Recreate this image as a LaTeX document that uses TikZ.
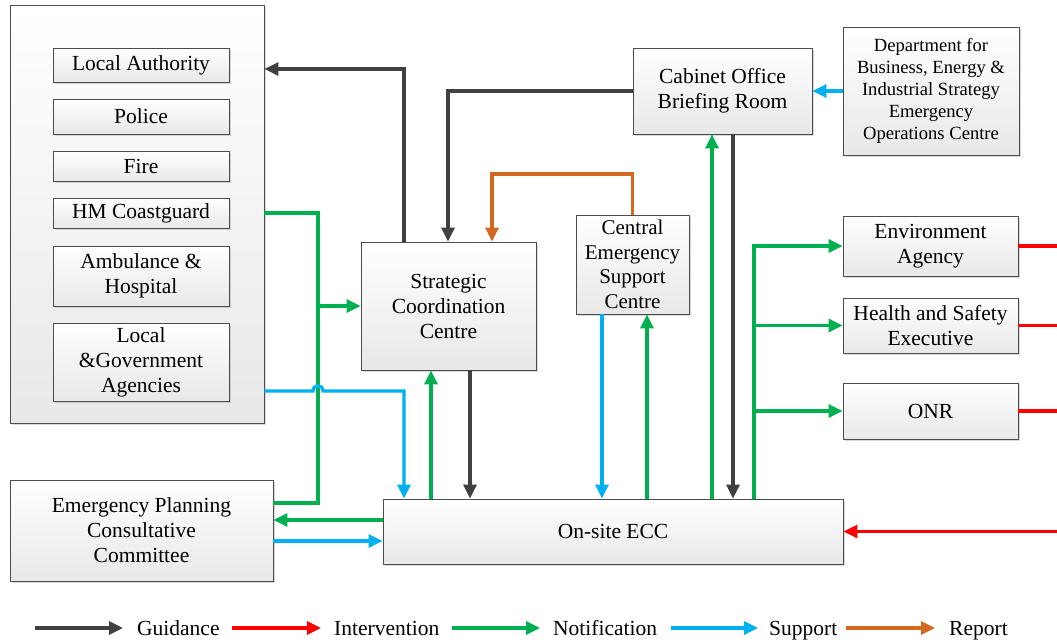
\documentclass[tikz,border=0pt]{standalone}
\usepackage{fontspec}
\setmainfont{Liberation Serif}
\newfontfamily\tnr{Liberation Serif}
\usetikzlibrary{arrows.meta,shadows}
\definecolor{cgd}{HTML}{404040}
\definecolor{cit}{HTML}{FF0000}
\definecolor{cnt}{HTML}{00B050}
\definecolor{csp}{HTML}{00B0F0}
\definecolor{crp}{HTML}{D2691E}
\begin{document}
\begin{tikzpicture}[x=1pt,y=-1pt,
  box/.style={draw=black!70, line width=0.9pt, top color=white, bottom color=black!9,
    drop shadow={shadow xshift=2pt,shadow yshift=-2pt,fill=black!30,opacity=0.5},
    inner sep=0pt, align=center, font=\tnr\fontsize{21.5}{25}\selectfont},
  conn/.style={line width=3.2pt},
  tip/.style={-{Triangle[length=14pt,width=13pt]}},
  gd/.style={conn, draw=cgd},
  it/.style={conn, draw=cit},
  nt/.style={conn, draw=cnt},
  sp/.style={conn, draw=csp},
  rp/.style={conn, draw=crp},
  lab/.style={inner sep=0pt, anchor=base west, font=\tnr\fontsize{21.5}{25}\selectfont}
]
\useasboundingbox (0,0) rectangle (1057,643);
\coordinate (R) at (1057,0);

% left container and its boxes
\node[box, minimum width=254pt, minimum height=418pt] (cont) at (137,214) {};
\node[box, minimum width=176pt, minimum height=34pt] (la) at (141,65) {Local Authority};
\node[box, minimum width=176pt, minimum height=35pt] (police) at (141,116.5) {Police};
\node[box, minimum width=176pt, minimum height=30pt] (fire) at (141,166) {Fire};
\node[box, minimum width=176pt, minimum height=30pt] (hm) at (141,213) {HM Coastguard};
\node[box, minimum width=176pt, minimum height=60pt] (amb) at (141,276) {Ambulance \&\\Hospital};
\node[box, minimum width=176pt, minimum height=78pt] (lga) at (141,362) {Local\\\&Government\\Agencies};

% other boxes
\node[box, minimum width=175pt, minimum height=128pt] (scc) at (448.5,306) {Strategic\\Coordination\\Centre};
\node[box, minimum width=179pt, minimum height=86pt] (cobr) at (722.5,91) {Cabinet Office\\Briefing Room};
\node[box, minimum width=176pt, minimum height=128pt, font=\tnr\fontsize{18.6}{22}\selectfont] (dept) at (931,91) {Department for\\Business, Energy \&\\Industrial Strategy\\Emergency\\Operations Centre};
\node[box, minimum width=113pt, minimum height=99pt, font=\tnr\fontsize{21}{24.5}\selectfont] (cesc) at (632.5,264.5) {Central\\Emergency\\Support\\Centre};
\node[box, minimum width=175pt, minimum height=60pt] (ea) at (930.5,246) {Environment\\Agency};
\node[box, minimum width=175pt, minimum height=55pt] (hse) at (930.5,325.5) {Health and Safety\\Executive};
\node[box, minimum width=175pt, minimum height=56pt] (onr) at (930.5,411) {ONR};
\node[box, minimum width=460pt, minimum height=65pt] (ecc) at (613,531.5) {On-site ECC};
\node[box, minimum width=263pt, minimum height=101pt] (epcc) at (141.5,530.5) {Emergency Planning\\Consultative\\Committee};

% guidance
\draw[gd, tip] (scc.north -| 404,0) -- (404,69) -- (cont.east |- 0,69);
\draw[gd, tip] (cobr.west) -| (scc.north -| 448,0);
\draw[gd, tip] (scc.south -| 470,0) -- (ecc.north -| 470,0);
\draw[gd, tip] (cobr.south -| 733,0) -- (ecc.north -| 733,0);

% report
\draw[rp, tip] (cesc.north) -- (cesc.north |- 0,174) -| (scc.north -| 492,0);

% notification
\draw[nt] (cont.east |- 0,213) -- (318,213) -- (318,503) -- (epcc.east |- 0,503);
\draw[nt, tip] (318,306) -- (scc.west);
\draw[nt, tip] (ecc.north -| 431,0) -- (scc.south -| 431,0);
\draw[nt, tip] (ecc.north -| 647,0) -- (cesc.south -| 647,0);
\draw[nt, tip] (ecc.north -| 712,0) -- (cobr.south -| 712,0);
\draw[nt, tip] (ecc.north -| 754,0) |- (ea.west);
\draw[nt, tip] (hse.west -| 754,0) -- (hse.west);
\draw[nt, tip] (onr.west -| 754,0) -- (onr.west);
\draw[nt, tip] (ecc.west |- 0,520) -- (epcc.east |- 0,520);

% support
\draw[sp, tip] (cont.east |- 0,391) -- (313,391) .. controls (313,384) and (323,384) .. (323,391) -- (404,391) -- (ecc.north -| 404,0);
\draw[sp, tip] (cesc.south -| 602,0) -- (ecc.north -| 602,0);
\draw[sp, tip] (dept.west |- cobr.east) -- (cobr.east);
\draw[sp, tip] (epcc.east |- 0,541) -- (ecc.west |- 0,541);

% intervention
\draw[it] (ea.east) -- (ea.east -| R);
\draw[it] (hse.east) -- (hse.east -| R);
\draw[it] (onr.east) -- (onr.east -| R);
\draw[it, tip] (ecc.east -| R) -- (ecc.east);

% legend
\node[lab] (lg1) at (137,635) {Guidance};
\node[lab] (lg2) at (334,635) {Intervention};
\node[lab] (lg3) at (553,635) {Notification};
\node[lab] (lg4) at (769,635) {Support};
\node[lab] (lg5) at (949,635) {Report};
\draw[gd, tip] (35,628) -- (123,628);
\draw[it, tip] (232,628) -- (321,628);
\draw[nt, tip] (452,628) -- (540,628);
\draw[sp, tip] (671,628) -- (758,628);
\draw[rp, tip] (846,628) -- (935,628);
\end{tikzpicture}
\end{document}
